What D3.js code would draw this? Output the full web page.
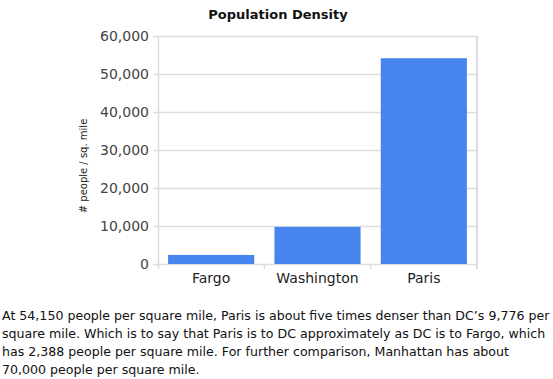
<!DOCTYPE html>
<html>
<head>
<meta charset="utf-8">
<script src="https://cdn.jsdelivr.net/npm/d3@7"></script>
<style>
  body { margin: 0; background: #fff; }
  #note {
    position: absolute; left: 2px; top: 307px; width: 552px;
    font-family: "DejaVu Sans", sans-serif; font-size: 12.6px; line-height: 18px;
    color: #111; margin: 0; white-space: nowrap;
  }
</style>
</head>
<body>
<svg id="chart" width="553" height="295"></svg>
<p id="note">At 54,150 people per square mile, Paris is about five times denser than DC’s 9,776 per<br>square mile. Which is to say that Paris is to DC approximately as DC is to Fargo, which<br>has 2,388 people per square mile. For further comparison, Manhattan has about<br>70,000 people per square mile.</p>
<script>
var cities = ["Fargo", "Washington", "Paris"];
var density = [2388, 9776, 54150];
var yTicks = [0, 10000, 20000, 30000, 40000, 50000, 60000];

var svg = d3.select("#chart");
var plotLeft = 158, plotRight = 477, plotTop = 36, plotBottom = 264;

var x = d3.scaleBand()
    .domain(cities)
    .range([plotLeft, plotRight])
    .paddingInner(0.19)
    .paddingOuter(0.095);

var y = d3.scaleLinear()
    .domain([0, 60000])
    .range([plotBottom, plotTop]);

// grid
svg.append("g").selectAll("line")
    .data(yTicks)
    .enter().append("line")
    .attr("x1", plotLeft - 5).attr("x2", plotRight)
    .attr("y1", function(d) { return y(d) + 0.5; })
    .attr("y2", function(d) { return y(d) + 0.5; })
    .attr("stroke", "#ddd").attr("stroke-width", 1.5);

// frame sides
svg.append("line")
    .attr("x1", plotLeft + 0.5).attr("x2", plotLeft + 0.5)
    .attr("y1", plotTop).attr("y2", plotBottom + 5)
    .attr("stroke", "#ddd").attr("stroke-width", 1.5);
svg.append("line")
    .attr("x1", plotRight).attr("x2", plotRight)
    .attr("y1", plotTop).attr("y2", plotBottom + 5)
    .attr("stroke", "#ddd").attr("stroke-width", 2);

// x ticks between categories
var step = x.step();
svg.append("g").selectAll("line")
    .data([1, 2])
    .enter().append("line")
    .attr("x1", function(d) { return plotLeft + d * step; })
    .attr("x2", function(d) { return plotLeft + d * step; })
    .attr("y1", plotBottom).attr("y2", plotBottom + 5)
    .attr("stroke", "#ddd").attr("stroke-width", 1.5);

// bars
svg.append("g").selectAll("rect")
    .data(cities)
    .enter().append("rect")
    .attr("x", function(d) { return x(d); })
    .attr("width", x.bandwidth())
    .attr("y", function(d, i) { return y(density[i]); })
    .attr("height", function(d, i) { return plotBottom - y(density[i]); })
    .attr("fill", "#4684ee");

// y tick labels
var fmt = d3.format(",");
svg.append("g").selectAll("text")
    .data(yTicks)
    .enter().append("text")
    .attr("x", plotLeft - 9)
    .attr("y", function(d) { return y(d) + 5; })
    .attr("text-anchor", "end")
    .attr("font-family", "DejaVu Sans, sans-serif")
    .attr("font-size", 14)
    .attr("fill", "#444")
    .text(function(d) { return fmt(d); });

// x labels
svg.append("g").selectAll("text")
    .data(cities)
    .enter().append("text")
    .attr("x", function(d) { return x(d) + x.bandwidth() / 2; })
    .attr("y", 283)
    .attr("text-anchor", "middle")
    .attr("font-family", "DejaVu Sans, sans-serif")
    .attr("font-size", 14)
    .attr("fill", "#222")
    .text(function(d) { return d; });

// y axis title
svg.append("text")
    .attr("transform", "translate(87,166) rotate(-90)")
    .attr("text-anchor", "middle")
    .attr("font-family", "DejaVu Sans, sans-serif")
    .attr("font-size", 10)
    .attr("fill", "#222")
    .text("# people / sq. mile");

// title
svg.append("text")
    .attr("x", 278)
    .attr("y", 19)
    .attr("text-anchor", "middle")
    .attr("font-family", "DejaVu Sans, sans-serif")
    .attr("font-size", 13)
    .attr("font-weight", "bold")
    .attr("fill", "#111")
    .text("Population Density");
</script>
</body>
</html>
